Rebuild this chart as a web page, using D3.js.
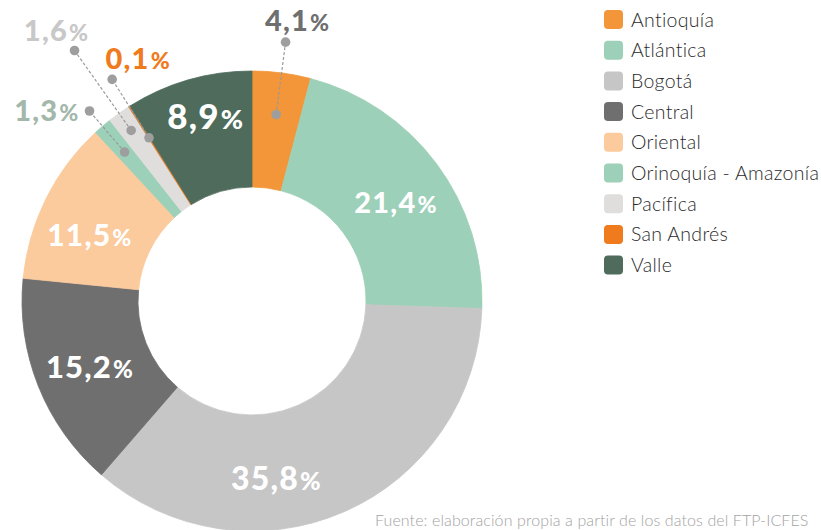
<!DOCTYPE html>
<html>
<head>
<meta charset="utf-8">
<script src="https://cdn.jsdelivr.net/npm/d3@7"></script>
<style>
  body { margin: 0; background: #fff; }
  svg { display: block; }
</style>
</head>
<body>
<svg id="chart" width="821" height="530"></svg>
<script>
// datos (%)
var categories = ["Antioquía", "Atlántica", "Bogotá", "Central", "Oriental",
                  "Orinoquía - Amazonía", "Pacífica", "San Andrés", "Valle"];
var values = [4.1, 21.4, 35.8, 15.2, 11.5, 1.3, 1.6, 0.1, 8.9];
var labels = ["4,1", "21,4", "35,8", "15,2", "11,5", "1,3", "1,6", "0,1", "8,9"];
var colors = ["#f39539", "#9dd0b8", "#c6c6c6", "#6f6f6f", "#fbca9d",
              "#9dd0b8", "#dfdedd", "#ef7b1c", "#4e6b5c"];
var source = "Fuente: elaboración propia a partir de los datos del FTP-ICFES";

var svg = d3.select("#chart");
var cx = 252, cy = 301, rOut = 230, rIn = 114;

var data = categories.map(function(c, i) {
  return { name: c, value: values[i], label: labels[i], color: colors[i] };
});

var pie = d3.pie().sort(null).value(function(d) { return d.value; });
var arc = d3.arc().innerRadius(rIn).outerRadius(rOut);
var arcs = pie(data);

var g = svg.append("g").attr("transform", "translate(" + cx + "," + cy + ")");

g.selectAll("path.slice")
  .data(arcs)
  .enter().append("path")
    .attr("class", "slice")
    .attr("d", arc)
    .style("fill", function(d) { return d.data.color; })
    .style("stroke", function(d) { return d.data.color; })
    .style("stroke-width", 0.8);

function polar(angle, r) {
  return [Math.sin(angle) * r, -Math.cos(angle) * r];
}
var deg = Math.PI / 180;

// etiquetas dentro de las porciones
var inside = {
  "Atlántica": { shift: 3.5, r: 172, size: 29 },
  "Bogotá":    { shift: 16, r: 185, size: 32 },
  "Central":   { shift: -2, r: 177, size: 31 },
  "Oriental":  { shift: -6, r: 173, size: 30 },
  "Valle":     { shift: 1.5, r: 184, size: 35 }
};

arcs.forEach(function(d) {
  var o = inside[d.data.name];
  if (!o) return;
  var mid = (d.startAngle + d.endAngle) / 2 + o.shift * deg;
  var p = polar(mid, o.r);
  var t = g.append("text")
    .attr("x", p[0]).attr("y", p[1])
    .attr("dy", "0.36em")
    .attr("text-anchor", "middle")
    .style("font-family", "Lato, sans-serif")
    .style("font-weight", 900)
    .style("letter-spacing", "1.2px")
    .style("fill", "#fff");
  t.append("tspan").style("font-size", o.size + "px").text(d.data.label);
  t.append("tspan").style("font-size", Math.round(o.size * 0.78) + "px").attr("dx", 1).text("%");
});

// etiquetas con línea guía
var callouts = {
  "Antioquía":            { r1: 188, r2: 261, dx: 12,  dy: -11, anchor: "middle", color: "#6f6f6f" },
  "Orinoquía - Amazonía": { r1: 196, r2: 250, dx: -10, dy: 10,  anchor: "end",    color: "#a3b8ab" },
  "Pacífica":             { r1: 209, r2: 307, dx: -18, dy: -10, anchor: "middle", color: "#c8c8c8" },
  "San Andrés":           { r1: 193, r2: 262, dx: 26,  dy: -10, anchor: "middle", color: "#ef7b1c" }
};

arcs.forEach(function(d) {
  var o = callouts[d.data.name];
  if (!o) return;
  var mid = (d.startAngle + d.endAngle) / 2;
  var a = polar(mid, o.r1), b = polar(mid, o.r2);
  g.append("line")
    .attr("x1", a[0]).attr("y1", a[1]).attr("x2", b[0]).attr("y2", b[1])
    .style("stroke", "#9a9a9a")
    .style("stroke-width", 1.2)
    .style("stroke-dasharray", "3,2");
  [a, b].forEach(function(p) {
    g.append("circle").attr("cx", p[0]).attr("cy", p[1]).attr("r", 4.8)
      .style("fill", "#9e9e9e");
  });
  var t = g.append("text")
    .attr("x", b[0] + o.dx).attr("y", b[1] + o.dy)
    .attr("text-anchor", o.anchor)
    .style("font-family", "Lato, sans-serif")
    .style("font-weight", 900)
    .style("letter-spacing", "1.2px")
    .style("fill", o.color);
  t.append("tspan").style("font-size", "29px").text(d.data.label);
  t.append("tspan").style("font-size", "23px").attr("dx", 1).text("%");
});

// leyenda
var legend = svg.append("g").attr("transform", "translate(604,10)");
var row = legend.selectAll("g")
  .data(data)
  .enter().append("g")
    .attr("transform", function(d, i) { return "translate(0," + (i * 30.7) + ")"; });
row.append("rect")
  .attr("width", 19).attr("height", 19).attr("rx", 4)
  .style("fill", function(d) { return d.color; });
row.append("text")
  .attr("x", 27).attr("y", 9.5).attr("dy", "0.36em")
  .style("font-family", "Lato, sans-serif")
  .style("font-weight", 300)
  .style("font-size", "19.5px")
  .style("letter-spacing", "0.3px")
  .style("fill", "#2b2b2b")
  .text(function(d) { return d.name; });

// fuente
svg.append("text")
  .attr("x", 375).attr("y", 526)
  .style("font-family", "Lato, sans-serif")
  .style("font-weight", 300)
  .style("font-size", "16px")
  .style("letter-spacing", "0.1px")
  .style("fill", "#a3a3a3")
  .text(source);
</script>
</body>
</html>
